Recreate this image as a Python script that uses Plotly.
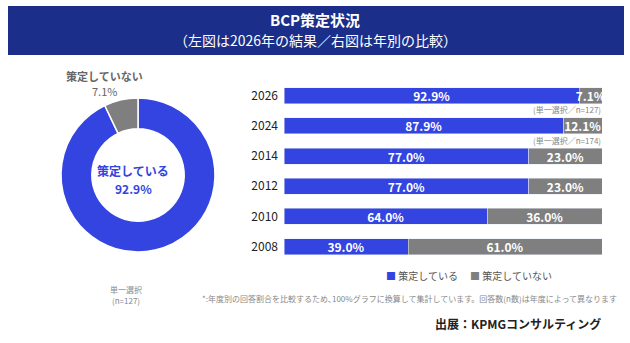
import plotly.graph_objects as go

W, H = 630, 343
FONT = "Noto Sans CJK JP"
BLUE = "#3444e0"
GRAY = "#7f7f7f"
NAVY = "#1b2f8a"

# Data
pie_labels = ["策定している", "策定していない"]
pie_values = [92.9, 7.1]

years = ["2026", "2024", "2014", "2012", "2010", "2008"]
yes_vals = [92.9, 87.9, 77.0, 77.0, 64.0, 39.0]
no_vals = [7.1, 12.1, 23.0, 23.0, 36.0, 61.0]
series_names = ["策定している", "策定していない"]


def px(x):
    return x / W


def py(y):
    return 1 - y / H


fig = go.Figure()

# Donut
cx, cy, r = 138, 175, 77
fig.add_trace(go.Pie(
    labels=pie_labels, values=pie_values, hole=0.6, sort=False,
    direction="clockwise", rotation=0,
    marker=dict(colors=[BLUE, GRAY], line=dict(color="white", width=1.5)),
    textinfo="none", hoverinfo="label+percent", showlegend=False,
    domain=dict(x=[px(cx - r), px(cx + r)], y=[py(cy + r), py(cy - r)]),
))

# Stacked bars
for name, vals, col in [(series_names[0], yes_vals, BLUE), (series_names[1], no_vals, GRAY)]:
    fig.add_trace(go.Bar(
        y=years, x=vals, orientation="h", name=name,
        marker=dict(color=col), text=[f"{v:.1f}%" for v in vals],
        textposition="inside", insidetextanchor="middle", constraintext="none",
        textfont=dict(color="white", size=12, family=FONT, weight="bold"),
        showlegend=False, xaxis="x", yaxis="y",
    ))

bar_top, bar_bot = 80.7, 261.7
fig.update_layout(
    width=W, height=H, margin=dict(l=0, r=0, t=0, b=0),
    paper_bgcolor="white", plot_bgcolor="white",
    font=dict(family=FONT, color="#333"),
    barmode="stack", bargap=0.47,
    xaxis=dict(domain=[px(284), px(602)], range=[0, 100], visible=False, fixedrange=True),
    yaxis=dict(domain=[py(bar_bot), py(bar_top)], type="category",
               categoryorder="array", categoryarray=years[::-1],
               showgrid=False, showline=False, ticks="", ticklabelstandoff=5,
               tickfont=dict(size=12, color="#222", family=FONT)),
    showlegend=False,
)

# Header banner
fig.add_shape(type="rect", xref="paper", yref="paper",
              x0=px(8), x1=px(624), y0=py(55), y1=py(6),
              fillcolor=NAVY, line=dict(width=0), layer="below")

ann = []
ann.append(dict(x=0.5, y=py(20), text="<b>BCP策定状況</b>", font=dict(size=15, color="white")))
ann.append(dict(x=0.5, y=py(40), text="（左図は2026年の結果／右図は年別の比較）", font=dict(size=14, color="white")))
# donut labels
ann.append(dict(x=px(104), y=py(76), text="<b>策定していない</b>", font=dict(size=11, color="#666")))
ann.append(dict(x=px(104), y=py(91), text="7.1%", font=dict(size=11, color="#666")))
ann.append(dict(x=px(133), y=py(170), text="<b>策定している</b>", font=dict(size=12, color=BLUE)))
ann.append(dict(x=px(133), y=py(189), text="<b>92.9%</b>", font=dict(size=12, color=BLUE)))
ann.append(dict(x=px(126), y=py(289), text="単一選択", font=dict(size=8, color="#888")))
ann.append(dict(x=px(126), y=py(300), text="(n=127)", font=dict(size=8, color="#888")))
# legend
ann.append(dict(x=px(384), y=py(275), xanchor="left",
                text=f"<span style='color:{BLUE}'>■</span> {series_names[0]}",
                font=dict(size=10, color="#555")))
ann.append(dict(x=px(468), y=py(275), xanchor="left",
                text=f"<span style='color:{GRAY}'>■</span> {series_names[1]}",
                font=dict(size=10, color="#555")))
# bar notes
ann.append(dict(x=px(603), y=py(109), text="(単一選択／n=127)", xanchor="right",
                font=dict(size=8, color="#888")))
ann.append(dict(x=px(603), y=py(140), text="(単一選択／n=174)", xanchor="right",
                font=dict(size=8, color="#888")))
ann.append(dict(x=px(200), y=py(298), xanchor="left",
                text="*:年度別の回答割合を比較するため､100%グラフに換算して集計しています。回答数(n数)は年度によって異なります",
                font=dict(size=8, color="#888")))
ann.append(dict(x=px(603), y=py(323), xanchor="right", text="<b>出展：KPMGコンサルティング</b>",
                font=dict(size=12, color="#222")))

for a in ann:
    a.setdefault("xanchor", "center")
    a.setdefault("yanchor", "middle")
    a.update(xref="paper", yref="paper", showarrow=False)
    a["font"].setdefault("family", FONT)
    fig.add_annotation(**a)

fig.write_html("out.html")
